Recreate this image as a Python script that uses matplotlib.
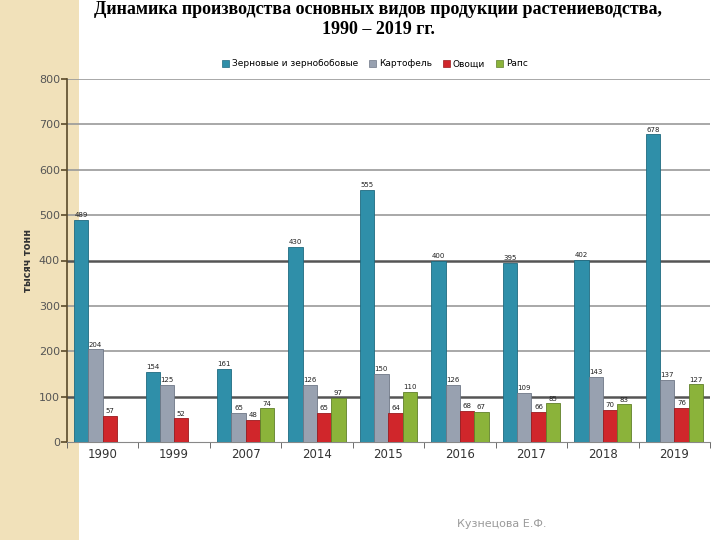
import numpy as np
import matplotlib
matplotlib.use("Agg")
import matplotlib.pyplot as plt
from matplotlib.patches import Rectangle

years = ["1990", "1999", "2007", "2014", "2015", "2016", "2017", "2018", "2019"]
series_names = ["Зерновые и зернобобовые", "Картофель", "Овощи", "Рапс"]
grain = [489, 154, 161, 430, 555, 400, 395, 402, 678]
potato = [204, 125, 65, 126, 150, 126, 109, 143, 137]
veg = [57, 52, 48, 65, 64, 68, 66, 70, 76]
rape = [None, None, 74, 97, 110, 67, 85, 83, 127]

colors = ["#2F8FA9", "#98A1B0", "#D0262B", "#8BB33A"]
edges = ["#1F6A80", "#6E7786", "#9A1A1E", "#60802A"]

fig = plt.figure(figsize=(7.2, 5.4), dpi=100)
fig.patch.set_facecolor("white")
fig.patches.append(Rectangle((0, 0), 79 / 720, 1, transform=fig.transFigure,
                             facecolor="#F1E1BA", edgecolor="none", zorder=-10))

ax = fig.add_axes([67 / 720, 98 / 540, 643 / 720, 363 / 540])
ax.set_facecolor("none")
ax.set_zorder(2)

x = np.arange(len(years))
w = 0.2
offsets = [-0.3, -0.1, 0.1, 0.3]
for i, vals in enumerate([grain, potato, veg, rape]):
    for xi, v in zip(x, vals):
        if v is None:
            continue
        ax.bar(xi + offsets[i], v, w, color=colors[i], edgecolor=edges[i],
               linewidth=0.6, zorder=3)
        ax.text(xi + offsets[i], v + 4, str(v), ha="center", va="bottom",
                fontsize=5, color="#222222", zorder=4)

# grid lines
for g in range(100, 900, 100):
    dark = g in (100, 400)
    ax.axhline(g, color="#555555" if dark else "#999999",
               lw=1.8 if dark else 1.2, zorder=1)

ax.set_xlim(-0.5, len(years) - 0.5)
ax.set_ylim(0, 800)
ax.set_yticks(range(0, 900, 100))
ax.tick_params(axis="y", length=4, width=1.2, color="#5A4A2A",
               labelsize=8, labelcolor="#555555", pad=1)
ax.set_xticks(x)
ax.set_xticklabels(years, fontsize=8.5, color="#333333")
ax.tick_params(axis="x", length=0, pad=4)
ax.set_xticks(np.arange(-0.5, len(years), 1), minor=True)
ax.tick_params(axis="x", which="minor", length=4, color="#555555")

for s in ["top", "right"]:
    ax.spines[s].set_visible(False)
ax.spines["left"].set_color("#5A4A2A")
ax.spines["left"].set_linewidth(1.2)
ax.spines["bottom"].set_color("#888888")

ax.set_ylabel("тысяч тонн", fontsize=7, fontweight="bold", color="#333333",
              labelpad=4)

handles = [Rectangle((0, 0), 1, 1, facecolor=c, edgecolor=e, lw=0.5)
           for c, e in zip(colors, edges)]
fig.legend(handles, series_names, loc="center", bbox_to_anchor=(375 / 720, 1 - 64 / 540),
           ncol=4, frameon=False, fontsize=6.5, handlelength=0.8, handleheight=0.8,
           handletextpad=0.3, columnspacing=1.2)

fig.text(378 / 720, 1 - 10 / 540,
         "Динамика производства основных видов продукции растениеводства,",
         ha="center", va="center", fontsize=13, fontweight="bold",
         family="Liberation Serif")
fig.text(378 / 720, 1 - 29 / 540, "1990 – 2019 гг.", ha="center", va="center",
         fontsize=13, fontweight="bold", family="Liberation Serif")

fig.text(457 / 720, 1 - 524 / 540, "Кузнецова Е.Ф.", ha="left", va="center",
         fontsize=8, color="#9A9A9A")

fig.savefig("out.png", dpi=100)
